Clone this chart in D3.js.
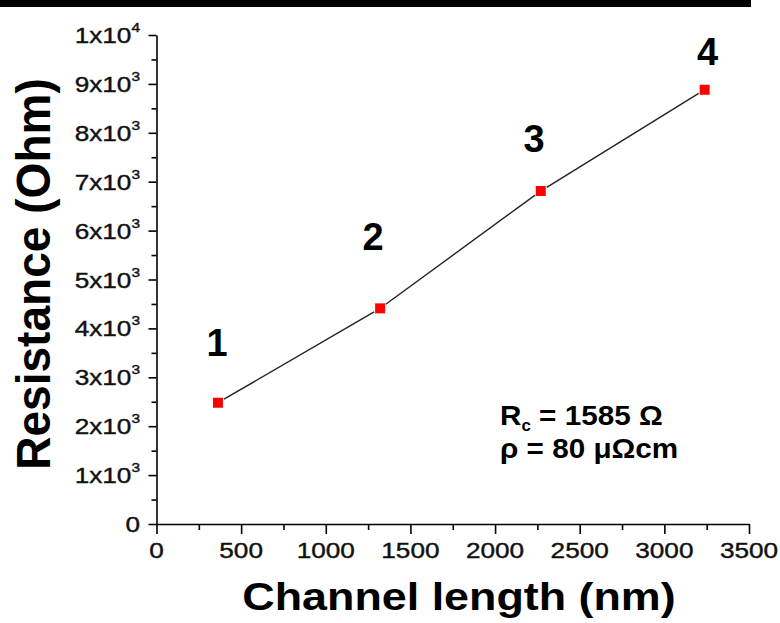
<!DOCTYPE html>
<html>
<head>
<meta charset="utf-8">
<script src="https://cdn.jsdelivr.net/npm/d3@7"></script>
<style>
  html, body { margin: 0; padding: 0; background: #fff; }
  svg { display: block; font-family: Arial, "Liberation Sans", sans-serif; }
</style>
</head>
<body>
<svg id="chart" width="780" height="623"></svg>
<script>
// ---- data ----
const channelLength = [363, 1321, 2270, 3238];      // nm
const resistance    = [2480, 4410, 6810, 8880];     // Ohm
const pointLabels   = ["1", "2", "3", "4"];
const labelAtX      = [358, 1280, 2230, 3256];      // label anchor (data units)
const labelAtY      = [3436, 5603, 7607, 9387];
const xTicks        = [0, 500, 1000, 1500, 2000, 2500, 3000, 3500];
const xMinorTicks   = [250, 750, 1250, 1750, 2250, 2750, 3250];
const yTicks        = [0, 1000, 2000, 3000, 4000, 5000, 6000, 7000, 8000, 9000, 10000];
const yTickMantissa = ["0", "1x10", "2x10", "3x10", "4x10", "5x10", "6x10", "7x10", "8x10", "9x10", "1x10"];
const yTickExponent = ["", "3", "3", "3", "3", "3", "3", "3", "3", "3", "4"];
const yMinorTicks   = [500, 1500, 2500, 3500, 4500, 5500, 6500, 7500, 8500, 9500];
const xTitle = "Channel length (nm)";
const yTitle = "Resistance (Ohm)";
const noteLines = [
  { main: "R", sub: "c", rest: " = 1585 \u03A9" },
  { main: "\u03C1 = 80 \u03BC\u03A9cm", sub: "", rest: "" }
];

// ---- layout ----
const svg = d3.select("#chart");
const x = d3.scaleLinear().domain([0, 3500]).range([156.5, 749]);
const y = d3.scaleLinear().domain([0, 10000]).range([524, 35]);
const SX = 1.19; // horizontal stretch of the original artwork

// top black bar
svg.append("rect").attr("x", 0).attr("y", 0).attr("width", 751).attr("height", 7).attr("fill", "#000");

// axes
const gx = svg.append("g").attr("transform", `translate(0,${y(0)})`);
gx.call(d3.axisBottom(x).tickValues(xTicks).tickSize(10).tickSizeOuter(0).tickFormat(""));
gx.append("g").call(d3.axisBottom(x).tickValues(xMinorTicks).tickSize(6).tickFormat(""))
  .select(".domain").remove();
const gy = svg.append("g").attr("transform", `translate(${x(0)},0)`);
gy.call(d3.axisLeft(y).tickValues(yTicks).tickSize(8).tickSizeOuter(0).tickFormat(""));
gy.append("g").call(d3.axisLeft(y).tickValues(yMinorTicks).tickSize(5).tickFormat(""))
  .select(".domain").remove();
svg.selectAll(".domain, .tick line").attr("stroke", "#000").attr("stroke-width", 1.6);

// x tick labels
svg.append("g").selectAll("text").data(xTicks).join("text")
  .attr("transform", d => `translate(${x(d)},558) scale(${SX},1)`)
  .attr("text-anchor", "middle").attr("font-size", 22).attr("fill", "#111")
  .attr("stroke", "#111").attr("stroke-width", 0.4)
  .text(d => d);

// y tick labels
const yl = svg.append("g").selectAll("text").data(yTicks).join("text")
  .attr("transform", (d) => `translate(140,${y(d) + 8}) scale(${SX},1)`)
  .attr("text-anchor", "end").attr("font-size", 22).attr("fill", "#111")
  .attr("stroke", "#111").attr("stroke-width", 0.4);
yl.each(function(d, i) {
  const t = d3.select(this);
  t.append("tspan").text(yTickMantissa[i]);
  if (yTickExponent[i]) {
    t.append("tspan").attr("dy", -11).attr("font-size", 13).text(yTickExponent[i]);
  }
});

// axis titles
svg.append("text")
  .attr("transform", `translate(459,610) scale(1.18,1)`)
  .attr("text-anchor", "middle").attr("font-size", 38).attr("font-weight", "bold").attr("fill", "#000")
  .text(xTitle);
svg.append("text")
  .attr("transform", `translate(50,274) rotate(-90) scale(0.94,1)`)
  .attr("text-anchor", "middle").attr("font-size", 49).attr("font-weight", "bold").attr("fill", "#000")
  .text(yTitle);

// connecting line (segments with gaps near markers)
const pts = channelLength.map((v, i) => [x(v), y(resistance[i])]);
const gap = 7;
const segs = d3.pairs(pts).map(([a, b]) => {
  const dx = b[0] - a[0], dy = b[1] - a[1], L = Math.hypot(dx, dy);
  return [[a[0] + dx / L * gap, a[1] + dy / L * gap], [b[0] - dx / L * gap, b[1] - dy / L * gap]];
});
svg.append("g").selectAll("path").data(segs).join("path")
  .attr("d", d => d3.line()(d)).attr("stroke", "#222").attr("stroke-width", 1.4).attr("fill", "none");

// markers
const ms = 10;
svg.append("g").selectAll("rect").data(channelLength).join("rect")
  .attr("x", d => x(d) - ms / 2).attr("y", (d, i) => y(resistance[i]) - ms / 2)
  .attr("width", ms).attr("height", ms).attr("fill", "#ff0000");

// point labels
svg.append("g").selectAll("text").data(pointLabels).join("text")
  .attr("x", (d, i) => x(labelAtX[i])).attr("y", (d, i) => y(labelAtY[i]))
  .attr("text-anchor", "middle").attr("font-size", 38).attr("font-weight", "bold").attr("fill", "#000")
  .text(d => d);

// annotation
const note = svg.append("g").attr("font-weight", "bold").attr("font-size", 28).attr("fill", "#000");
noteLines.forEach((ln, i) => {
  const t = note.append("text").attr("transform", `translate(500,${425 + i * 33}) scale(1.06,1)`);
  t.append("tspan").text(ln.main);
  if (ln.sub) {
    t.append("tspan").attr("font-size", 16).attr("dy", 6).text(ln.sub);
    t.append("tspan").attr("dy", -6).text(ln.rest);
  }
});
</script>
</body>
</html>
